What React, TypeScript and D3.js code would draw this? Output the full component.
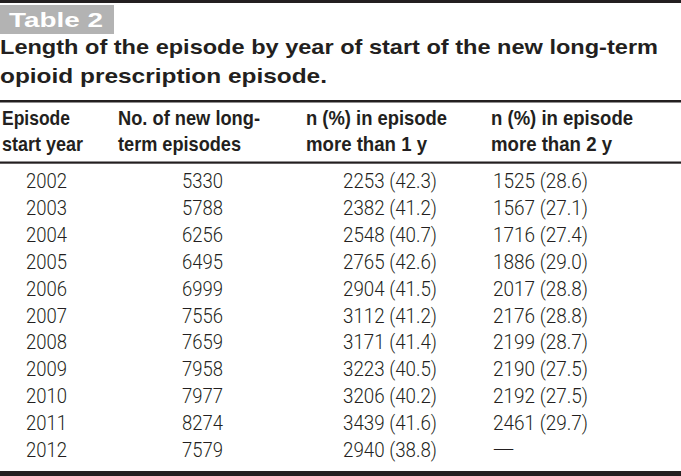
import React from "react";
import * as d3 from "d3";

const years = ["2002","2003","2004","2005","2006","2007","2008","2009","2010","2011","2012"];
const newEpisodes = [5330,5788,6256,6495,6999,7556,7659,7958,7977,8274,7579];
const n1y = [2253,2382,2548,2765,2904,3112,3171,3223,3206,3439,2940];
const pct1y = [42.3,41.2,40.7,42.6,41.5,41.2,41.4,40.5,40.2,41.6,38.8];
const n2y: (number|null)[] = [1525,1567,1716,1886,2017,2176,2199,2190,2192,2461,null];
const pct2y: (number|null)[] = [28.6,27.1,27.4,29.0,28.8,28.8,28.7,27.5,27.5,29.7,null];

const tableLabel = "Table 2";
const titleLines = ["Length of the episode by year of start of the new long-term", "opioid prescription episode."];
const headers = [
  ["Episode", "start year"],
  ["No. of new long-", "term episodes"],
  ["n (%) in episode", "more than 1 y"],
  ["n (%) in episode", "more than 2 y"],
];

const W = 681, H = 476;
const DARK = "#231f20";
const LIGHT = "Roboto, 'Liberation Sans', Arial, sans-serif";
const SANS = "'Liberation Sans', Arial, Helvetica, sans-serif";

export default function App() {
  const y = d3.scaleLinear().domain([0, years.length - 1]).range([188, 457]);
  const fmt = d3.format(".1f");
  const headerX = [2, 118, 306, 491];
  const headerLens = [[68, 81], [142, 123], [141, 121], [142, 121]];
  return (
    <svg width={W} height={H} style={{ position: "absolute", left: 0, top: 0, background: "#fff" }}>
      <rect x={0} y={0} width={W} height={3} fill={DARK} />
      <rect x={0} y={5} width={114} height={29} fill="#b3b3b3" />
      <text x={9} y={27} fontFamily={SANS} fontWeight="bold" fontSize={21} fill="#fff" textLength={94} lengthAdjust="spacingAndGlyphs">{tableLabel}</text>
      {titleLines.map((t, i) => (
        <text key={i} x={0} y={54 + i * 29} fontFamily={SANS} fontWeight="bold" fontSize={21} fill={DARK}
          textLength={i === 0 ? 658 : 327} lengthAdjust="spacingAndGlyphs">{t}</text>
      ))}
      <rect x={0} y={100} width={W} height={2.5} fill={DARK} />
      {headers.map((h, c) => h.map((line, li) => (
        <text key={c + "-" + li} x={headerX[c]} y={125 + li * 26} fontFamily={SANS} fontWeight="bold" fontSize={21}
          fill={DARK} textLength={headerLens[c][li]} lengthAdjust="spacingAndGlyphs">{line}</text>
      )))}
      <rect x={0} y={161.5} width={W} height={2.2} fill={DARK} />
      {years.map((yr, i) => (
        <g key={yr} fontFamily={LIGHT} fontWeight={300} fontSize={20} fill={DARK}>
          <text x={26} y={y(i)} textLength={41} lengthAdjust="spacingAndGlyphs">{yr}</text>
          <text x={182} y={y(i)} textLength={41} lengthAdjust="spacingAndGlyphs">{newEpisodes[i]}</text>
          <text x={343} y={y(i)} textLength={94} lengthAdjust="spacingAndGlyphs">{`${n1y[i]} (${fmt(pct1y[i])})`}</text>
          {n2y[i] == null
            ? <text x={492} y={y(i)} textLength={23} lengthAdjust="spacingAndGlyphs">{"\u2014"}</text>
            : <text x={493} y={y(i)} textLength={95} lengthAdjust="spacingAndGlyphs">{`${n2y[i]} (${fmt(pct2y[i] as number)})`}</text>}
        </g>
      ))}
      <rect x={0} y={471} width={W} height={5} fill={DARK} />
    </svg>
  );
}
